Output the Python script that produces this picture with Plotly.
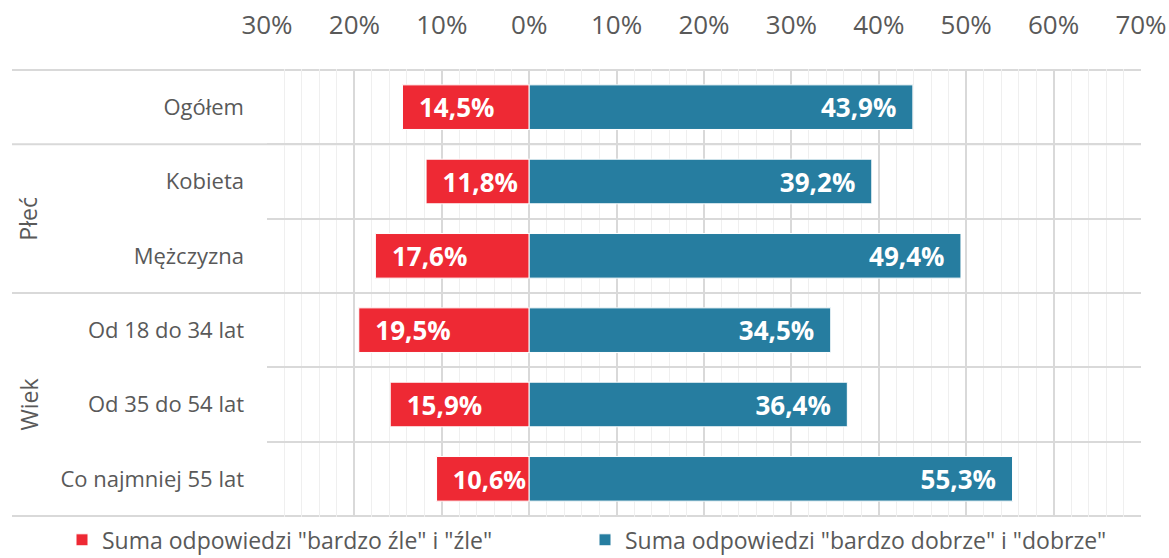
import plotly.graph_objects as go

categories = ["Ogółem", "Kobieta", "Mężczyzna", "Od 18 do 34 lat", "Od 35 do 54 lat", "Co najmniej 55 lat"]
bad = [14.5, 11.8, 17.6, 19.5, 15.9, 10.6]
good = [43.9, 39.2, 49.4, 34.5, 36.4, 55.3]
bad_name = 'Suma odpowiedzi "bardzo źle" i "źle"'
good_name = 'Suma odpowiedzi "bardzo dobrze" i "dobrze"'
tick_vals = [-30, -20, -10, 0, 10, 20, 30, 40, 50, 60, 70]
tick_text = [f"{abs(v)}%" for v in tick_vals]
groups = [("Płeć", 1, 2), ("Wiek", 3, 5)]

RED = "#ee2934"
BLUE = "#267da0"
GREY = "#595959"
FONT = "Open Sans"
PAD = "\u00a0\u00a0"


def pl(v):
    return f"{v:.1f}".replace(".", ",") + "%"


fig = go.Figure()
fig.add_trace(go.Bar(y=categories, x=[-v for v in bad], orientation="h", name=bad_name,
                     marker=dict(color=RED, line=dict(color="white", width=1)),
                     text=[PAD + pl(v) for v in bad], textposition="inside", insidetextanchor="end",
                     textfont=dict(family=FONT, size=26, color="white", weight="bold"),
                     width=0.6, hoverinfo="skip"))
fig.add_trace(go.Bar(y=categories, x=good, orientation="h", name=good_name,
                     marker=dict(color=BLUE, line=dict(color="white", width=1)),
                     text=[pl(v) + PAD for v in good], textposition="inside", insidetextanchor="end",
                     textfont=dict(family=FONT, size=26, color="white", weight="bold"),
                     width=0.6, hoverinfo="skip"))

left = (12 - 267) / 874
shapes = []
# top, bottom and group separators running into the label column
for yb in [-0.5, 0.5, 2.5, 5.5]:
    shapes.append(dict(type="line", xref="paper", yref="y", x0=left, x1=1, y0=yb, y1=yb,
                       line=dict(color="#d9d9d9", width=2), layer="below"))

annotations = []
for label, a, b in groups:
    annotations.append(dict(text=label, xref="paper", yref="y", x=(28 - 267) / 874, y=(a + b) / 2,
                            xanchor="center", yanchor="middle",
                            showarrow=False, textangle=-90, font=dict(family=FONT, size=23, color=GREY)))

fig.update_layout(
    width=1169, height=558,
    margin=dict(l=267, r=28, t=69, b=41, autoexpand=False),
    paper_bgcolor="white", plot_bgcolor="white",
    barmode="relative", bargap=0.4,
    font=dict(family=FONT, color=GREY),
    shapes=shapes, annotations=annotations,
    showlegend=True,
    legend=dict(orientation="h", x=(62 - 267) / 874, xanchor="left", y=-0.051, yanchor="middle",
                font=dict(family=FONT, size=23, color=GREY), itemwidth=30,
                entrywidth=478, entrywidthmode="pixels", bgcolor="rgba(0,0,0,0)"),
    xaxis=dict(side="top", range=[-30, 70], tickvals=tick_vals, ticktext=tick_text,
               tickfont=dict(size=26, color=GREY), showgrid=True, gridcolor="#d9d9d9", gridwidth=2,
               zeroline=False, ticks="", ticklabelstandoff=29, showline=False, automargin=False,
               minor=dict(dtick=2, showgrid=True, gridcolor="#efefef", gridwidth=1)),
    yaxis=dict(autorange="reversed", tickson="boundaries", showgrid=True, gridcolor="#d9d9d9", gridwidth=2,
               tickfont=dict(size=22, color=GREY), ticks="", ticklabelstandoff=22, showline=False,
               zeroline=False, automargin=False),
)

fig.write_html("out.html", config={"displayModeBar": False},
               post_script="document.body.style.margin='0';")
